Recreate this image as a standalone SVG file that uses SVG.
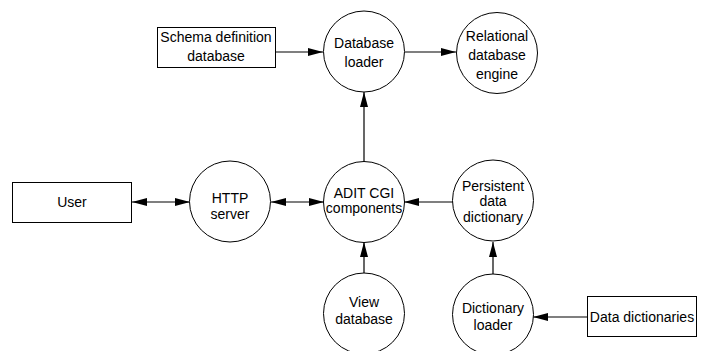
<svg xmlns="http://www.w3.org/2000/svg" width="701" height="351" viewBox="0 0 701 351">
<style>
.n{fill:#fff;stroke:#000;stroke-width:1}
.t{font-family:"Liberation Sans",Arial,Helvetica,sans-serif;font-size:14px;fill:#000;text-anchor:middle}
.c{fill:none;stroke:#000;stroke-width:1.2}
</style>
<defs>
<marker id="ah" markerUnits="userSpaceOnUse" markerWidth="15" markerHeight="8" refX="15" refY="4" orient="auto-start-reverse">
<path d="M0,0 L15,4 L0,8 z" fill="#000"/>
</marker>
</defs>
<rect width="701" height="351" fill="#fff"/>
<g id="connectors">
<line class="c" x1="276" y1="52" x2="323" y2="52" marker-end="url(#ah)"/>
<line class="c" x1="405" y1="52" x2="456" y2="52" marker-end="url(#ah)"/>
<line class="c" x1="364" y1="162" x2="364" y2="92" marker-end="url(#ah)"/>
<line class="c" x1="132" y1="202" x2="190" y2="202" marker-start="url(#ah)" marker-end="url(#ah)"/>
<line class="c" x1="271" y1="202" x2="324" y2="202" marker-start="url(#ah)" marker-end="url(#ah)"/>
<line class="c" x1="453" y1="202" x2="404" y2="202" marker-end="url(#ah)"/>
<line class="c" x1="364" y1="273" x2="364" y2="242" marker-end="url(#ah)"/>
<line class="c" x1="493" y1="274" x2="493" y2="242" marker-end="url(#ah)"/>
<line class="c" x1="587" y1="317" x2="533" y2="317" marker-end="url(#ah)"/>
</g>
<g id="schema">
<rect class="n" x="157.5" y="27.5" width="118" height="40"/>
<text class="t" x="216" y="42">Schema definition</text>
<text class="t" x="216" y="61">database</text>
</g>
<g id="dbloader">
<circle class="n" cx="364" cy="51.5" r="40.5"/>
<text class="t" x="364" y="48">Database</text>
<text class="t" x="364" y="66.5">loader</text>
</g>
<g id="relational">
<circle class="n" cx="497" cy="53" r="40.5"/>
<text class="t" x="497" y="41">Relational</text>
<text class="t" x="497" y="60">database</text>
<text class="t" x="497" y="79">engine</text>
</g>
<g id="user">
<rect class="n" x="12.5" y="182.5" width="119" height="40"/>
<text class="t" x="72" y="207">User</text>
</g>
<g id="http">
<circle class="n" cx="230" cy="201.5" r="40.5"/>
<text class="t" x="230" y="203">HTTP</text>
<text class="t" x="230" y="218.5">server</text>
</g>
<g id="adit">
<circle class="n" cx="364" cy="202" r="40.5"/>
<text class="t" x="364" y="198">ADIT CGI</text>
<text class="t" x="364" y="213">components</text>
</g>
<g id="persistent">
<circle class="n" cx="493" cy="200.5" r="40.5"/>
<text class="t" x="493" y="191">Persistent</text>
<text class="t" x="493" y="206">data</text>
<text class="t" x="493" y="221.5">dictionary</text>
</g>
<g id="viewdb">
<circle class="n" cx="364" cy="313.5" r="40.5"/>
<text class="t" x="364" y="307">View</text>
<text class="t" x="364" y="324">database</text>
</g>
<g id="dictloader">
<circle class="n" cx="493" cy="314.5" r="40.5"/>
<text class="t" x="493" y="313">Dictionary</text>
<text class="t" x="493" y="330">loader</text>
</g>
<g id="datadict">
<rect class="n" x="587.5" y="296.5" width="109" height="40"/>
<text class="t" x="642" y="321.5">Data dictionaries</text>
</g>
</svg>
